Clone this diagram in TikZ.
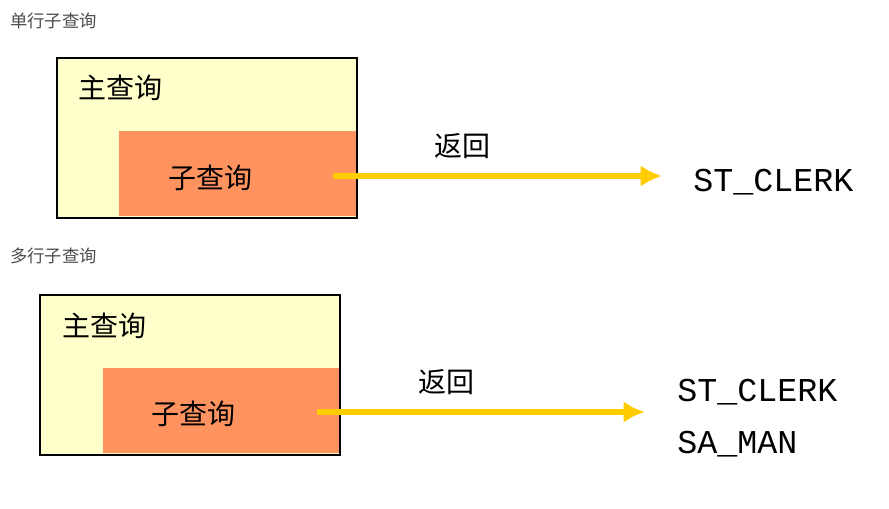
\documentclass[tikz,border=0pt]{standalone}
\usepackage{fontspec}
\setmainfont{Liberation Serif}
\setmonofont{Liberation Mono}
\newfontfamily\cjk{Noto Sans CJK SC}
\usetikzlibrary{arrows.meta,positioning}
\definecolor{mainfill}{HTML}{FFFFCC}
\definecolor{subfill}{HTML}{FF935F}
\definecolor{retarrow}{HTML}{FFCC00}
\tikzset{
  mainbox/.style={draw=black,line width=1.5pt,fill=mainfill},
  subbox/.style={fill=subfill},
  heading/.style={font=\cjk\fontsize{13}{15}\selectfont,text=black!70,anchor=west,inner sep=0pt},
  qtext/.style={font=\cjk\fontsize{21}{24}\selectfont},
  result/.style={font=\ttfamily\fontsize{25}{30}\selectfont,anchor=west,inner sep=0pt},
  ret/.style={-{Latex[length=16pt,width=16pt]},draw=retarrow,line width=4pt}
}
\begin{document}
\begin{tikzpicture}[x=0.75pt,y=-0.75pt]
  \useasboundingbox (0,0) rectangle (889,509);
  % single-row subquery
  \node[heading] (head1) at (10,21) {单行子查询};
  \draw[mainbox] (57,58) rectangle (357,218);
  \fill[subbox] (119,131) rectangle (355.5,216.5);
  \node[qtext] (main1) at (120,88) {主查询};
  \node[qtext] (sub1) at (210,178) {子查询};
  \coordinate (from1) at (333,176);
  \node[result] (res1) at (693,182) {ST\_CLERK};
  \node[qtext] (ret1) at (462,146) {返回};
  \draw[ret] (from1) -- (662,176);
  % multi-row subquery
  \node[heading] (head2) at (10,256) {多行子查询};
  \draw[mainbox] (40,295) rectangle (340,455);
  \fill[subbox] (103,368) rectangle (338.5,453.5);
  \node[qtext] (main2) at (104,326) {主查询};
  \node[qtext] (sub2) at (193,414) {子查询};
  \coordinate (from2) at (317,412);
  \node[result] (res2) at (677,392) {ST\_CLERK};
  \node[result] (res3) at (677,444) {SA\_MAN};
  \node[qtext] (ret2) at (446,382) {返回};
  \draw[ret] (from2) -- (645,412);
\end{tikzpicture}
\end{document}
